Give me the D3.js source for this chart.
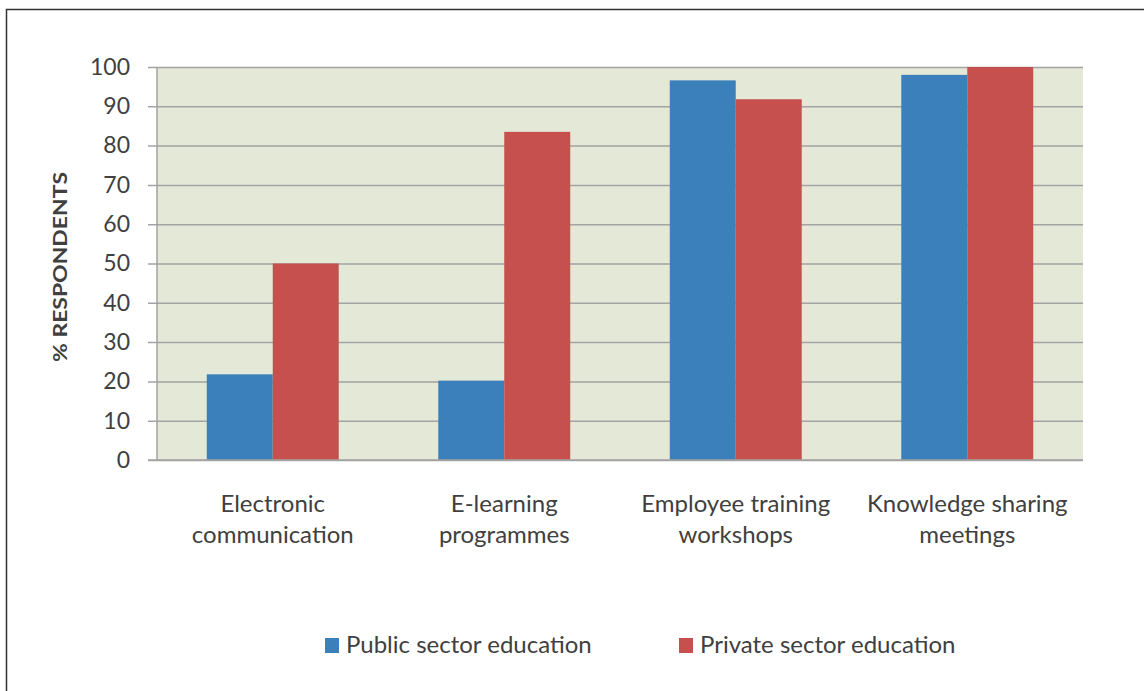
<!DOCTYPE html>
<html>
<head>
<meta charset="utf-8">
<script src="https://cdn.jsdelivr.net/npm/d3@7"></script>
<style>
  html, body { margin: 0; padding: 0; background: #fff; }
  svg { display: block; }
  text { font-family: Lato, "Open Sans", sans-serif; fill: #404040; }
</style>
</head>
<body>
<svg id="chart" width="1144" height="691"></svg>
<script>
// Knowledge-sharing methods used, by sector (% of respondents)
const categories = [
  ["Electronic", "communication"],
  ["E-learning", "programmes"],
  ["Employee training", "workshops"],
  ["Knowledge sharing", "meetings"]
];
const seriesNames = ["Public sector education", "Private sector education"];
const publicValues = [21.8, 20.2, 96.6, 98.0];
const privateValues = [50.0, 83.5, 91.8, 100.0];
const yTicks = [0, 10, 20, 30, 40, 50, 60, 70, 80, 90, 100];
const colors = ["#3C80BB", "#C5504E"];

const svg = d3.select("#chart");
const W = 1144, H = 691;
const plot = { left: 157, top: 67, right: 1083, bottom: 460 };

// outer frame
svg.append("path")
  .attr("d", `M6.5,${H} V9.5 H${W}`)
  .attr("fill", "none").attr("stroke", "#333").attr("stroke-width", 1.5);

const x0 = d3.scaleBand()
  .domain(d3.range(categories.length))
  .range([plot.left, plot.right])
  .paddingInner(0.43).paddingOuter(0.215);
const x1 = d3.scaleBand().domain([0, 1]).range([0, x0.bandwidth()]);
const y = d3.scaleLinear().domain([0, 100]).range([plot.bottom, plot.top]);

// plot background
svg.append("rect")
  .attr("x", plot.left).attr("y", plot.top)
  .attr("width", plot.right - plot.left).attr("height", plot.bottom - plot.top)
  .attr("fill", "#E4E8D6");

// gridlines and y axis
const yAxis = d3.axisLeft(y).tickValues(yTicks).tickSize(plot.right - plot.left + 9).tickPadding(18);
const gy = svg.append("g").attr("transform", `translate(${plot.right},0)`).call(yAxis);
gy.select(".domain").remove();
gy.selectAll(".tick line").attr("stroke", "#A3A3A3").attr("stroke-width", 1.5);
gy.selectAll(".tick text")
  .style("font-size", "23px").style("font-family", "Lato, sans-serif").attr("fill", "#333");

// left axis line
svg.append("line")
  .attr("x1", plot.left).attr("x2", plot.left)
  .attr("y1", plot.top).attr("y2", plot.bottom)
  .attr("stroke", "#A3A3A3").attr("stroke-width", 1.5);

// bars
const rows = categories.map((c, i) => [publicValues[i], privateValues[i]]);
const groups = svg.append("g").selectAll("g").data(rows).join("g")
  .attr("transform", (d, i) => `translate(${x0(i)},0)`);
groups.selectAll("rect").data(d => d).join("rect")
  .attr("x", (d, j) => x1(j))
  .attr("y", d => y(d))
  .attr("width", x1.bandwidth())
  .attr("height", d => y(0) - y(d))
  .attr("fill", (d, j) => colors[j]);

// x axis baseline (redrawn on top of bars)
svg.append("line")
  .attr("x1", plot.left - 9).attr("x2", plot.right)
  .attr("y1", plot.bottom).attr("y2", plot.bottom)
  .attr("stroke", "#A3A3A3").attr("stroke-width", 1.5);

// category labels
categories.forEach((lines, i) => {
  const cx = x0(i) + x0.bandwidth() / 2;
  const t = svg.append("text")
    .attr("x", cx)
    .attr("y", 512)
    .attr("text-anchor", "middle")
    .style("font-size", "24px");
  lines.forEach((ln, k) => {
    t.append("tspan").attr("x", cx).attr("dy", k === 0 ? 0 : 31).text(ln);
  });
});

// y axis title
svg.append("text")
  .attr("transform", `translate(67,267) rotate(-90)`)
  .attr("text-anchor", "middle")
  .attr("textLength", 190).attr("lengthAdjust", "spacingAndGlyphs")
  .style("font-size", "18px").style("font-weight", "bold")
  .attr("fill", "#222")
  .text("% RESPONDENTS");

// legend
const legendX = [325, 679];
seriesNames.forEach((name, i) => {
  svg.append("rect")
    .attr("x", legendX[i]).attr("y", 638)
    .attr("width", 14).attr("height", 15)
    .attr("fill", colors[i]);
  svg.append("text")
    .attr("x", legendX[i] + 21).attr("y", 653)
    .style("font-size", "24px")
    .text(name);
});
</script>
</body>
</html>
